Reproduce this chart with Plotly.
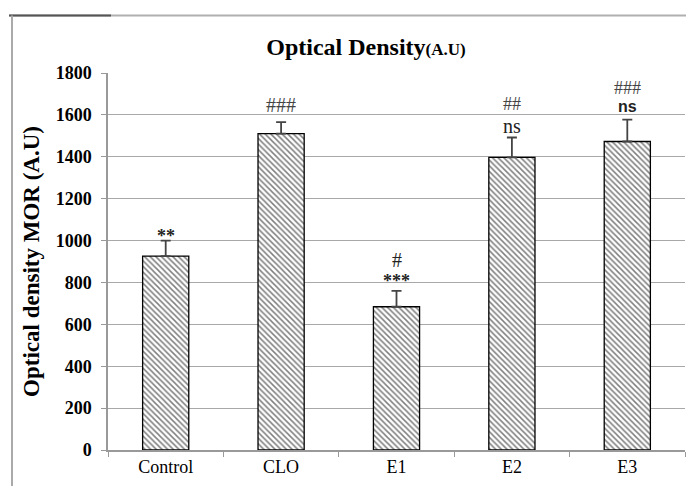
import plotly.graph_objects as go

categories = ["Control", "CLO", "E1", "E2", "E3"]
values = [926, 1511, 684, 1397, 1473]
errors = [74, 54, 76, 95, 104]
sig_vs_control = ["**", "", "***", "ns", "ns"]
sig_vs_clo = ["", "###", "#", "##", "###"]
y_ticks = [0, 200, 400, 600, 800, 1000, 1200, 1400, 1600, 1800]

SERIF = "Liberation Serif, Times New Roman, serif"
SANS = "Liberation Sans, Arial, sans-serif"

# page body has an 8px margin; figure is sized to fit in the 694x486 window
W, H = 686, 478
ML, MR, MT, MB = 100, 9, 65, 26
PW, PH = W - ML - MR, H - MT - MB

def px_x(fx):
    return (fx - ML) / PW

def px_y(fy):
    return 1 + (MT - fy) / PH

fig = go.Figure()
fig.add_trace(go.Bar(
    x=categories, y=values,
    width=0.4,
    marker=dict(
        color="white",
        line=dict(color="black", width=1.3),
        pattern=dict(shape="\\", fgcolor="black", bgcolor="white", size=4, solidity=0.38),
    ),
    error_y=dict(type="data", array=errors, arrayminus=[0] * len(errors), symmetric=False,
                 color="#444444", thickness=1.8, width=5),
    showlegend=False,
))

# label styles: (font family, size, color, bold, yshift)
lower_style = {
    "Control": (SERIF, 18, "#222", True, 5),
    "E1": (SERIF, 18, "#222", True, 10),
    "E2": (SERIF, 20, "#222", False, 12),
    "E3": (SANS, 16, "#222", True, 13),
}
upper_style = {
    "CLO": (SERIF, 20, "#444", False, 17),
    "E1": (SERIF, 20, "#222", False, 31),
    "E2": (SERIF, 18, "#444", False, 34),
    "E3": (SERIF, 18, "#444", False, 32),
}

anns = []
for i, c in enumerate(categories):
    top = values[i] + errors[i]
    for txt, styles in ((sig_vs_control[i], lower_style), (sig_vs_clo[i], upper_style)):
        if not txt:
            continue
        fam, size, col, bold, ys = styles[c]
        anns.append(dict(x=c, y=top, text=("<b>%s</b>" % txt) if bold else txt, yshift=ys,
                         showarrow=False, yanchor="middle",
                         font=dict(family=fam, size=size, color=col)))

fig.update_layout(
    width=W, height=H,
    margin=dict(l=ML, r=MR, t=MT, b=MB, pad=0),
    paper_bgcolor="white", plot_bgcolor="white",
    title=dict(text="<b>Optical Density<span style='font-size:17px'>(A.U)</span></b>",
               xref="paper", x=px_x(358), xanchor="center",
               yref="container", y=1 - 39 / H, yanchor="middle",
               font=dict(family=SERIF, size=24, color="black")),
    annotations=anns,
    shapes=[
        dict(type="line", xref="paper", yref="paper", x0=px_x(1), x1=px_x(700), y0=px_y(6), y1=px_y(6),
             line=dict(color="#b0b0b0", width=2)),
        dict(type="line", xref="paper", yref="paper", x0=px_x(1), x1=px_x(103), y0=px_y(6), y1=px_y(6),
             line=dict(color="#555555", width=2)),
        dict(type="line", xref="paper", yref="paper", x0=px_x(4), x1=px_x(4), y0=px_y(6), y1=px_y(500),
             line=dict(color="#aaaaaa", width=2)),
    ],
)
fig.update_xaxes(
    type="category", showgrid=False, showline=True, linecolor="#999999", linewidth=1.5,
    ticks="outside", tickson="boundaries", ticklen=5, tickcolor="#999999",
    tickfont=dict(family=SERIF, size=18, color="black"),
)
fig.update_yaxes(
    range=[0, 1800], tickvals=y_ticks, showgrid=True, gridcolor="#a8a8a8", gridwidth=1.3,
    showline=True, linecolor="#999999", linewidth=1.5, ticks="outside", ticklen=5, tickcolor="#999999",
    ticklabelstandoff=6,
    tickfont=dict(family=SERIF, size=18, color="black", weight="bold"),
    title=dict(text="<b>Optical density MOR (A.U)</b>", standoff=10,
               font=dict(family=SERIF, size=23, color="black")),
    zeroline=False,
)

fig.write_html("out.html")
